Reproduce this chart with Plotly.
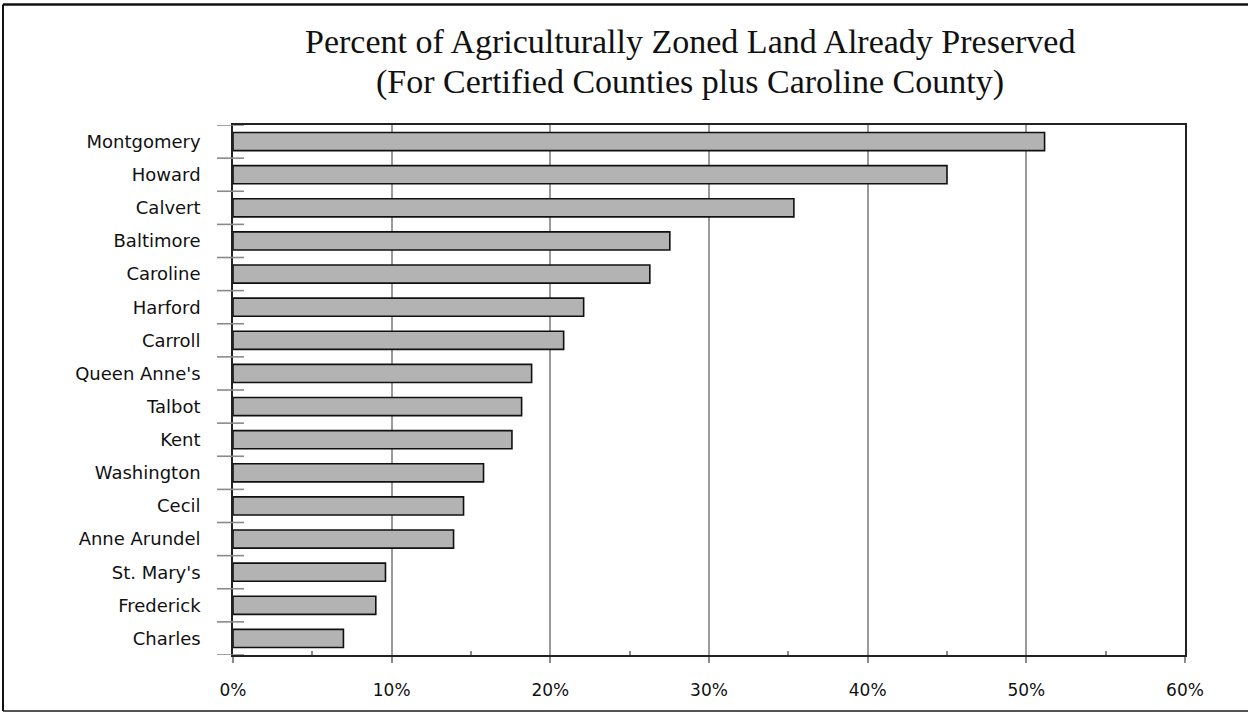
import plotly.graph_objects as go

counties = ["Montgomery", "Howard", "Calvert", "Baltimore", "Caroline", "Harford",
            "Carroll", "Queen Anne's", "Talbot", "Kent", "Washington", "Cecil",
            "Anne Arundel", "St. Mary's", "Frederick", "Charles"]
pct_preserved = [0.5115, 0.450, 0.3535, 0.2753, 0.2627, 0.2210,
                 0.2084, 0.1882, 0.1819, 0.1758, 0.1579, 0.1453,
                 0.1390, 0.0961, 0.0900, 0.0696]
x_ticks = [0, 0.1, 0.2, 0.3, 0.4, 0.5, 0.6]

title1 = "Percent of Agriculturally Zoned Land Already Preserved"
title2 = "(For Certified Counties plus Caroline County)"

W, H = 1248, 713
L, R, T, B = 233, 63, 125, 58
pw, ph = W - L - R, H - T - B

fig = go.Figure(go.Bar(
    x=pct_preserved, y=counties, orientation="h",
    marker=dict(color="#b3b3b3", line=dict(color="#111111", width=1.6)),
))

shapes = []
# category-boundary tick marks crossing the y axis
for k in range(len(counties) + 1):
    shapes.append(dict(type="line", xref="paper", yref="y",
                       x0=-16 / pw, x1=11 / pw, y0=k - 0.5, y1=k - 0.5,
                       line=dict(color="#8a8a8a", width=1.6), layer="above"))
# outer frame lines (top, bottom, left)
top_y = (H - B - 4.5) / ph
bot_y = (H - B - 711) / ph
left_x = (3 - L) / pw
right_x = (W - L) / pw
shapes.append(dict(type="line", xref="paper", yref="paper", x0=left_x, x1=right_x,
                   y0=top_y, y1=top_y, line=dict(color="#111111", width=2.5)))
shapes.append(dict(type="line", xref="paper", yref="paper", x0=left_x, x1=right_x,
                   y0=bot_y, y1=bot_y, line=dict(color="#555555", width=2)))
shapes.append(dict(type="line", xref="paper", yref="paper", x0=left_x, x1=left_x,
                   y0=bot_y, y1=top_y, line=dict(color="#111111", width=2)))

title_font = dict(family="Liberation Serif, Times New Roman, serif", size=34, color="#111111")
fig.update_layout(
    width=W, height=H,
    margin=dict(l=L, r=R, t=T, b=B, pad=0),
    paper_bgcolor="white", plot_bgcolor="white",
    bargap=0.45, showlegend=False,
    shapes=shapes,
    annotations=[
        dict(text=title1, xref="paper", yref="paper", x=(690 - L) / pw, y=(H - B - 42) / ph,
             xanchor="center", yanchor="middle", showarrow=False, font=title_font),
        dict(text=title2, xref="paper", yref="paper", x=(690 - L) / pw, y=(H - B - 82) / ph,
             xanchor="center", yanchor="middle", showarrow=False, font=title_font),
    ],
)

fig.update_xaxes(
    range=[0, 0.6], tickvals=x_ticks, tickformat=".0%",
    showgrid=True, gridcolor="#9a9a9a", gridwidth=1.5,
    zeroline=False, showline=True, linecolor="#222222", linewidth=1.6, mirror=True,
    ticks="outside", ticklen=6, tickcolor="#8a8a8a", tickwidth=1.5,
    minor=dict(tickvals=[0.05, 0.15, 0.25, 0.35, 0.45, 0.55], ticks="inside",
               ticklen=4, tickcolor="#8a8a8a", tickwidth=1.5, showgrid=False),
    ticklabelstandoff=13,
    tickfont=dict(family="DejaVu Sans, sans-serif", size=17, color="#111111"),
    fixedrange=True,
)
fig.update_yaxes(
    range=[len(counties) - 0.5, -0.5], type="category",
    showgrid=False, zeroline=False,
    showline=True, linecolor="#222222", linewidth=1.6, mirror=True,
    ticks="", ticklabelstandoff=27,
    tickfont=dict(family="DejaVu Sans, sans-serif", size=18, color="#111111"),
    fixedrange=True,
)

fig.write_html("out.html")
